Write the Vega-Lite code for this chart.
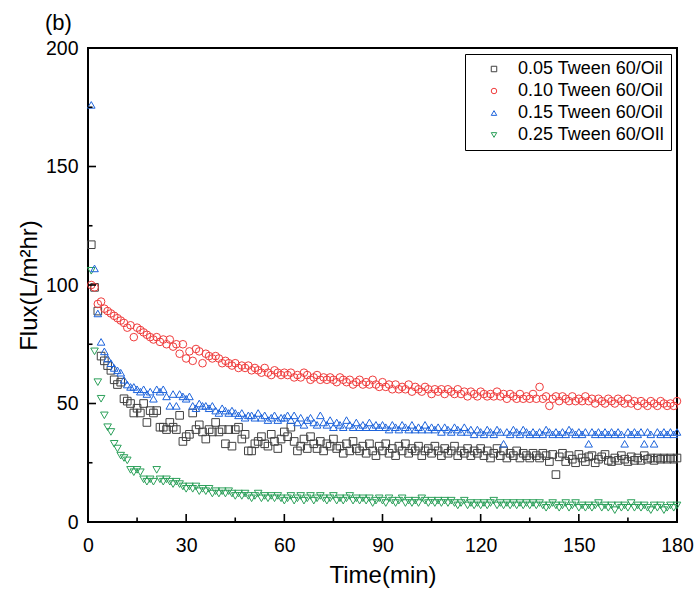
{
  "$schema": "https://vega.github.io/schema/vega-lite/v6.json",
  "width": 589,
  "height": 474,
  "autosize": {"type": "none"},
  "padding": {"left": 88, "top": 48, "right": 20, "bottom": 75},
  "title": {"text": "(b)", "anchor": "start", "frame": "group", "dx": -43, "offset": 3, "fontSize": 22, "fontWeight": "normal", "font": "Liberation Sans", "color": "black"},
  "config": {
    "view": {"stroke": "black", "strokeWidth": 2},
    "font": "Liberation Sans",
    "axis": {"domain": false, "grid": false, "ticks": false, "labelColor": "black", "titleColor": "black", "labelFontSize": 19.5, "titleFontSize": 24, "titleFontWeight": "normal", "labelFont": "Liberation Sans", "titleFont": "Liberation Sans"},
    "legend": {"orient": "top-right", "offset": 6, "strokeColor": "black", "strokeWidth": 1, "fillColor": "white", "padding": 6, "symbolSize": 30, "symbolStrokeWidth": 1, "labelFontSize": 18, "labelFont": "Liberation Sans", "labelColor": "black", "rowPadding": 4, "symbolOffset": 14, "labelOffset": 15}
  },
  "datasets": {
    "flux": [
{"t":1,"a":117,"b":100,"c":176,"d":106},{"t":2,"a":99,"b":99,"c":107,"d":72},{"t":3,"a":89,"b":92,"c":88,"d":59},{"t":4,"a":70,"b":93,"c":76,"d":52},{"t":5,"a":68,"b":90,"c":72,"d":45},{"t":6,"a":66,"b":89,"c":69,"d":40},{"t":7,"a":64,"b":88,"c":67,"d":38},{"t":8,"a":60,"b":87,"c":65,"d":33},{"t":9,"a":58,"b":86,"c":64,"d":31},{"t":10,"a":59,"b":85,"c":63,"d":28},
{"t":11,"a":52,"b":84,"c":60,"d":27},{"t":12,"a":51,"b":82,"c":58,"d":26},{"t":13,"a":50,"b":83,"c":57,"d":22},{"t":14,"a":46,"b":78,"c":57,"d":21},{"t":15,"a":48,"b":82,"c":56,"d":22},{"t":16,"a":46,"b":81,"c":55,"d":21},{"t":17,"a":50,"b":80,"c":56,"d":18},{"t":18,"a":42,"b":79,"c":54,"d":17},{"t":19,"a":47,"b":78,"c":55,"d":18},{"t":20,"a":46,"b":77,"c":52,"d":17},
{"t":21,"a":47,"b":78,"c":56,"d":22},{"t":22,"a":40,"b":76,"c":55,"d":18},{"t":23,"a":40,"b":77,"c":56,"d":17},{"t":24,"a":39,"b":75,"c":53,"d":18},{"t":25,"a":42,"b":77,"c":49,"d":17},{"t":26,"a":40,"b":74,"c":54,"d":16},{"t":27,"a":39,"b":75,"c":49,"d":17},{"t":28,"a":45,"b":71,"c":54,"d":16},{"t":29,"a":34,"b":75,"c":53,"d":15},{"t":30,"a":36,"b":69,"c":52,"d":14},
{"t":31,"a":37,"b":72,"c":53,"d":15},{"t":32,"a":46,"b":68,"c":49,"d":14},{"t":33,"a":39,"b":73,"c":48,"d":15},{"t":34,"a":41,"b":72,"c":50,"d":13},{"t":35,"a":38,"b":67,"c":49,"d":14},{"t":36,"a":35,"b":71,"c":49,"d":13},{"t":37,"a":39,"b":70,"c":48,"d":14},{"t":38,"a":38,"b":69,"c":49,"d":12},{"t":39,"a":42,"b":70,"c":47,"d":13},{"t":40,"a":38,"b":69,"c":46,"d":12},
{"t":41,"a":39,"b":67,"c":48,"d":13},{"t":42,"a":33,"b":68,"c":47,"d":12},{"t":43,"a":39,"b":67,"c":46,"d":13},{"t":44,"a":32,"b":66,"c":47,"d":12},{"t":45,"a":39,"b":67,"c":46,"d":11},{"t":46,"a":40,"b":65,"c":45,"d":12},{"t":47,"a":35,"b":66,"c":46,"d":11},{"t":48,"a":37,"b":65,"c":44,"d":12},{"t":49,"a":30,"b":66,"c":45,"d":11},{"t":50,"a":30,"b":64,"c":45,"d":10},
{"t":51,"a":33,"b":65,"c":44,"d":11},{"t":52,"a":34,"b":64,"c":46,"d":12},{"t":53,"a":36,"b":63,"c":44,"d":10},{"t":54,"a":33,"b":65,"c":45,"d":11},{"t":55,"a":32,"b":63,"c":43,"d":10},{"t":56,"a":37,"b":62,"c":44,"d":11},{"t":57,"a":34,"b":64,"c":45,"d":10},{"t":58,"a":31,"b":63,"c":43,"d":11},{"t":59,"a":35,"b":62,"c":44,"d":10},{"t":60,"a":38,"b":63,"c":44,"d":9},
{"t":61,"a":36,"b":62,"c":45,"d":10},{"t":62,"a":40,"b":63,"c":43,"d":11},{"t":63,"a":34,"b":61,"c":45,"d":9},{"t":64,"a":30,"b":62,"c":42,"d":10},{"t":65,"a":32,"b":61,"c":44,"d":11},{"t":66,"a":35,"b":63,"c":41,"d":9},{"t":67,"a":31,"b":62,"c":43,"d":10},{"t":68,"a":36,"b":60,"c":44,"d":11},{"t":69,"a":33,"b":61,"c":42,"d":9},{"t":70,"a":31,"b":62,"c":41,"d":10},
{"t":71,"a":34,"b":60,"c":45,"d":11},{"t":72,"a":30,"b":61,"c":42,"d":10},{"t":73,"a":33,"b":60,"c":41,"d":9},{"t":74,"a":32,"b":61,"c":43,"d":10},{"t":75,"a":35,"b":60,"c":40,"d":11},{"t":76,"a":31,"b":59,"c":42,"d":9},{"t":77,"a":32,"b":61,"c":41,"d":10},{"t":78,"a":29,"b":60,"c":40,"d":9},{"t":79,"a":33,"b":59,"c":43,"d":10},{"t":80,"a":30,"b":60,"c":41,"d":11},
{"t":81,"a":34,"b":58,"c":40,"d":9},{"t":82,"a":31,"b":59,"c":42,"d":10},{"t":83,"a":30,"b":60,"c":40,"d":9},{"t":84,"a":32,"b":58,"c":41,"d":10},{"t":85,"a":29,"b":59,"c":40,"d":9},{"t":86,"a":33,"b":58,"c":42,"d":10},{"t":87,"a":30,"b":60,"c":40,"d":8},{"t":88,"a":28,"b":58,"c":41,"d":9},{"t":89,"a":32,"b":57,"c":40,"d":10},{"t":90,"a":30,"b":59,"c":41,"d":9},
{"t":91,"a":33,"b":57,"c":40,"d":8},{"t":92,"a":29,"b":58,"c":39,"d":10},{"t":93,"a":31,"b":56,"c":41,"d":9},{"t":94,"a":28,"b":58,"c":40,"d":8},{"t":95,"a":32,"b":56,"c":39,"d":9},{"t":96,"a":30,"b":57,"c":41,"d":10},{"t":97,"a":33,"b":56,"c":40,"d":8},{"t":98,"a":29,"b":58,"c":39,"d":9},{"t":99,"a":31,"b":55,"c":41,"d":8},{"t":100,"a":30,"b":57,"c":39,"d":9},
{"t":101,"a":32,"b":56,"c":40,"d":8},{"t":102,"a":28,"b":55,"c":39,"d":10},{"t":103,"a":30,"b":57,"c":41,"d":9},{"t":104,"a":31,"b":56,"c":39,"d":8},{"t":105,"a":29,"b":54,"c":40,"d":9},{"t":106,"a":32,"b":56,"c":39,"d":8},{"t":107,"a":30,"b":55,"c":40,"d":9},{"t":108,"a":28,"b":56,"c":38,"d":8},{"t":109,"a":31,"b":54,"c":40,"d":9},{"t":110,"a":29,"b":56,"c":39,"d":8},
{"t":111,"a":30,"b":55,"c":38,"d":9},{"t":112,"a":32,"b":54,"c":40,"d":8},{"t":113,"a":28,"b":56,"c":39,"d":7},{"t":114,"a":30,"b":54,"c":38,"d":8},{"t":115,"a":29,"b":55,"c":40,"d":9},{"t":116,"a":31,"b":53,"c":38,"d":7},{"t":117,"a":28,"b":55,"c":39,"d":8},{"t":118,"a":30,"b":54,"c":37,"d":7},{"t":119,"a":29,"b":53,"c":39,"d":8},{"t":120,"a":31,"b":55,"c":38,"d":7},
{"t":121,"a":28,"b":54,"c":37,"d":8},{"t":122,"a":30,"b":53,"c":39,"d":7},{"t":123,"a":27,"b":54,"c":38,"d":8},{"t":124,"a":29,"b":53,"c":37,"d":9},{"t":125,"a":31,"b":55,"c":39,"d":7},{"t":126,"a":28,"b":53,"c":38,"d":8},{"t":127,"a":30,"b":54,"c":33,"d":7},{"t":128,"a":27,"b":52,"c":38,"d":8},{"t":129,"a":29,"b":54,"c":37,"d":7},{"t":130,"a":28,"b":53,"c":39,"d":8},
{"t":131,"a":30,"b":52,"c":38,"d":7},{"t":132,"a":27,"b":54,"c":37,"d":8},{"t":133,"a":29,"b":52,"c":39,"d":7},{"t":134,"a":28,"b":53,"c":38,"d":8},{"t":135,"a":27,"b":52,"c":37,"d":7},{"t":136,"a":29,"b":54,"c":38,"d":8},{"t":137,"a":28,"b":52,"c":37,"d":7},{"t":138,"a":27,"b":57,"c":38,"d":8},{"t":139,"a":29,"b":52,"c":37,"d":7},{"t":140,"a":28,"b":53,"c":39,"d":6},
{"t":141,"a":25.5,"b":49,"c":38,"d":7},{"t":142,"a":28.5,"b":52,"c":37,"d":8},{"t":143,"a":20,"b":53,"c":38,"d":7},{"t":144,"a":27.5,"b":51,"c":37,"d":6},{"t":145,"a":29,"b":53,"c":38,"d":7},{"t":146,"a":25.5,"b":52,"c":37,"d":8},{"t":147,"a":28,"b":51,"c":39,"d":6},{"t":148,"a":26.5,"b":53,"c":38,"d":7},{"t":149,"a":25,"b":51,"c":37,"d":8},{"t":150,"a":28.5,"b":52,"c":38,"d":6},
{"t":151,"a":27,"b":51,"c":37,"d":7},{"t":152,"a":25.5,"b":53,"c":38,"d":6},{"t":153,"a":27.5,"b":51,"c":33,"d":7},{"t":154,"a":28,"b":52,"c":38,"d":6},{"t":155,"a":25,"b":50,"c":37,"d":7},{"t":156,"a":26.5,"b":52,"c":38,"d":8},{"t":157,"a":27.5,"b":51,"c":37,"d":6},{"t":158,"a":28.5,"b":50,"c":38,"d":7},{"t":159,"a":26,"b":52,"c":37,"d":6},{"t":160,"a":25.5,"b":51,"c":38,"d":7},
{"t":161,"a":27,"b":50,"c":37,"d":5},{"t":162,"a":26,"b":52,"c":38,"d":7},{"t":163,"a":28,"b":51,"c":37,"d":6},{"t":164,"a":26.5,"b":50,"c":33,"d":7},{"t":165,"a":25.5,"b":52,"c":38,"d":6},{"t":166,"a":27.5,"b":50,"c":37,"d":8},{"t":167,"a":26,"b":51,"c":38,"d":6},{"t":168,"a":27,"b":49,"c":37,"d":7},{"t":169,"a":26,"b":51,"c":38,"d":6},{"t":170,"a":28,"b":50,"c":33,"d":7},
{"t":171,"a":26.5,"b":49,"c":38,"d":6},{"t":172,"a":27,"b":51,"c":37,"d":5},{"t":173,"a":26,"b":50,"c":33,"d":7},{"t":174,"a":27,"b":49,"c":38,"d":6},{"t":175,"a":26.5,"b":51,"c":37,"d":7},{"t":176,"a":27,"b":50,"c":38,"d":5},{"t":177,"a":26.5,"b":49,"c":37,"d":6},{"t":178,"a":27,"b":50,"c":38,"d":7},{"t":179,"a":26.5,"b":49,"c":37,"d":6},{"t":180,"a":27,"b":51,"c":38,"d":7}
    ],
    "xmajor": [{"tk":30},{"tk":60},{"tk":90},{"tk":120},{"tk":150}],
    "xminor": [{"tk":15},{"tk":45},{"tk":75},{"tk":105},{"tk":135},{"tk":165}],
    "ymajor": [{"tk":50},{"tk":100},{"tk":150}],
    "yminor": [{"tk":25},{"tk":75},{"tk":125},{"tk":175}]
  },
  "layer": [
    {
      "data": {"name": "flux"},
      "transform": [{"fold": ["a", "b", "c", "d"], "as": ["s", "v"]}],
      "mark": {"type": "point", "filled": false, "size": 58, "strokeWidth": 1, "opacity": 1},
      "encoding": {
        "x": {"field": "t", "type": "quantitative", "scale": {"domain": [0, 180], "nice": false},
          "axis": {"values": [0,30,60,90,120,150,180], "labelPadding": 14, "title": "Time(min)", "titlePadding": 9, "labelFlush": false}},
        "y": {"field": "v", "type": "quantitative", "scale": {"domain": [0, 200], "nice": false},
          "axis": {"values": [0,50,100,150,200], "labelPadding": 10, "title": "Flux(L/m²hr)", "titlePadding": 4, "labelFlush": false}},
        "color": {"field": "s", "type": "nominal", "scale": {"domain": ["a", "b", "c", "d"], "range": ["#404040", "#f03c3c", "#1e64dc", "#2ca05a"]},
          "legend": {"title": null, "labelExpr": "datum.value == 'a' ? '0.05 Tween 60/Oil' : datum.value == 'b' ? '0.10 Tween 60/Oil' : datum.value == 'c' ? '0.15 Tween 60/Oil' : '0.25 Tween 60/OIl'"}},
        "shape": {"field": "s", "type": "nominal", "scale": {"domain": ["a", "b", "c", "d"], "range": ["square", "circle", "triangle-up", "triangle-down"]}, "legend": null}
      }
    },
    {
      "data": {"name": "xmajor"},
      "mark": {"type": "tick", "orient": "vertical", "thickness": 1.6, "yOffset": -4, "color": "black", "opacity": 1},
      "encoding": {"x": {"field": "tk", "type": "quantitative"}, "y": {"datum": 0, "type": "quantitative"}, "size": {"value": 8}}
    },
    {
      "data": {"name": "xminor"},
      "mark": {"type": "tick", "orient": "vertical", "thickness": 1.6, "yOffset": -2.25, "color": "black", "opacity": 1},
      "encoding": {"x": {"field": "tk", "type": "quantitative"}, "y": {"datum": 0, "type": "quantitative"}, "size": {"value": 4.5}}
    },
    {
      "data": {"name": "ymajor"},
      "mark": {"type": "tick", "orient": "horizontal", "thickness": 1.6, "xOffset": 4, "color": "black", "opacity": 1},
      "encoding": {"y": {"field": "tk", "type": "quantitative"}, "x": {"datum": 0, "type": "quantitative"}, "size": {"value": 8}}
    },
    {
      "data": {"name": "yminor"},
      "mark": {"type": "tick", "orient": "horizontal", "thickness": 1.6, "xOffset": 2.25, "color": "black", "opacity": 1},
      "encoding": {"y": {"field": "tk", "type": "quantitative"}, "x": {"datum": 0, "type": "quantitative"}, "size": {"value": 4.5}}
    }
  ]
}
